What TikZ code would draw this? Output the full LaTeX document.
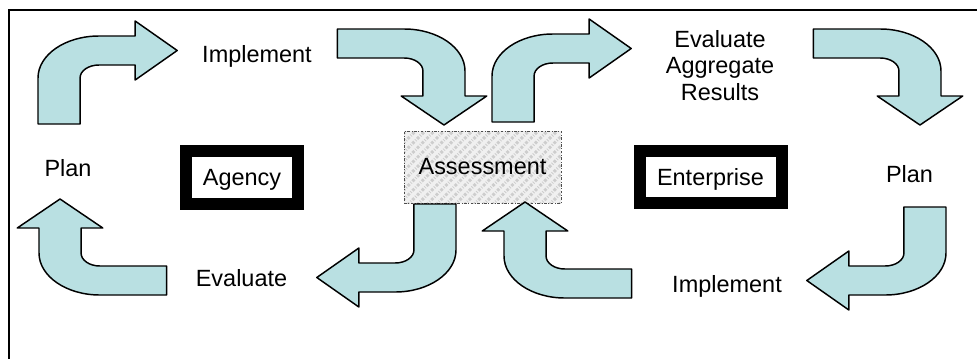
\documentclass[tikz,border=0pt]{standalone}
\usepackage{fontspec}
\setmainfont{Liberation Sans}
\usetikzlibrary{patterns.meta}
\definecolor{arrowfill}{HTML}{B9E0E2}
\definecolor{stripebg}{HTML}{F0F0F0}
\definecolor{stripe}{HTML}{CDCDCD}
\newcommand{\lblfont}{\fontsize{17.6pt}{19.9pt}\selectfont}
\newcommand{\cyclearrow}[2]{%
  \draw[arrowshape, shift={#1}, xscale=1.45, rotate=#2]
    (0,88) -- (0,42) .. controls (0,18.8) and (18.8,0) .. (42,0) -- (67,0)
    -- (67,-15) -- (96,14.5) -- (67,44) -- (67,29) -- (42,29)
    .. controls (34.8,29) and (29,34.8) .. (29,42) -- (29,88) -- cycle;}
\tikzset{
  lbl/.style={font=\lblfont, inner sep=0pt},
  unitbox/.style={draw=black, line width=9pt, fill=white, font=\lblfont,
                  text height=12.6pt, text depth=0pt, inner sep=0pt},
  assessbox/.style={draw=black!70, line width=0.6pt,
                    dash pattern=on 2pt off 1.2pt on 0.6pt off 1.2pt,
                    preaction={fill=stripebg},
                    pattern={Lines[angle=45, distance=5pt, line width=2.2pt]},
                    pattern color=stripe, font=\lblfont, inner sep=0pt,
                    minimum width=117.75pt, minimum height=54pt},
  arrowshape/.style={draw=black, line width=1.1pt, fill=arrowfill, line join=round},
  framebox/.style={draw=black, line width=1.6pt}}

\begin{document}
\begin{tikzpicture}[x=0.75pt, y=-0.75pt]
  \useasboundingbox (0,0) rectangle (977,358);
  \clip (0,0) rectangle (977,358);
  \draw[framebox] (9,10) rectangle (1000,380);

  \node[lbl, anchor=base] (planA) at (68,176.5) {Plan};
  \node[lbl, anchor=base] (implA) at (257,62.5) {Implement};
  \node[lbl, anchor=base] (evalA) at (241.5,286) {Evaluate};
  \node[unitbox, minimum width=84pt, minimum height=39.75pt] (agency) at (242,177) {Agency};

  \node[assessbox] (assess) at (482.5,167) {Assessment};

  \node[unitbox, minimum width=106.5pt, minimum height=39pt] (enterprise) at (710.5,177) {Enterprise};
  \node[lbl, anchor=north, align=center] (evalE) at (720,30) {Evaluate\\Aggregate\\Results};
  \node[lbl, anchor=base] (planE) at (909.5,182) {Plan};
  \node[lbl, anchor=base] (implE) at (727,292.5) {Implement};

  \cyclearrow{(38,36)}{0}
  \cyclearrow{(465,29)}{-90}
  \cyclearrow{(492,34)}{0}
  \cyclearrow{(941,29)}{-90}
  \cyclearrow{(946,295)}{180}
  \cyclearrow{(504,298)}{90}
  \cyclearrow{(456,292)}{180}
  \cyclearrow{(39,295)}{90}
\end{tikzpicture}
\end{document}
